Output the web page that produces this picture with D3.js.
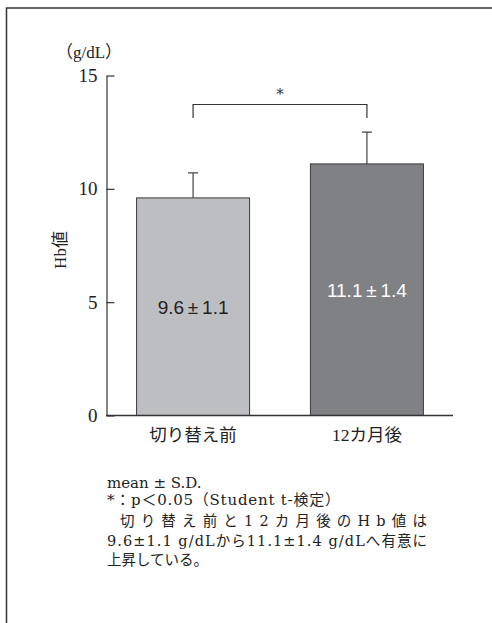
<!DOCTYPE html>
<html>
<head>
<meta charset="utf-8">
<script src="https://cdn.jsdelivr.net/npm/d3@7"></script>
<style>
  body { margin: 0; background: #fff; }
  svg { display: block; }
</style>
</head>
<body>
<div id="chart"></div>
<script>
// データ
let categories = ['切り替え前', '12カ月後'];
let means = [9.6, 11.1];
let sds = [1.1, 1.4];
let valueLabels = ['9.6\u2009±\u20091.1', '11.1\u2009±\u20091.4'];
let yTicks = [0, 5, 10, 15];
let barColors = ['#bdbec2', '#808185'];
let labelColors = ['#222', '#fff'];
let noteLines = ['mean ± S.D.', '*：p＜0.05（Student t-検定）'];
let bodyLines = ['切り替え前と12カ月後のHb値は', '9.6±1.1 g/dLから11.1±1.4 g/dLへ有意に', '上昇している。'];

let W = 492, H = 623;
let serif = '"DejaVu Serif", "Liberation Serif", "Noto Sans CJK JP", serif';
let times = '"Liberation Serif", "DejaVu Serif", "Noto Sans CJK JP", serif';
let sans = '"Liberation Sans", Arial, "Noto Sans CJK JP", sans-serif';

let svg = d3.select('#chart').append('svg')
    .attr('width', W)
    .attr('height', H);

//枠
svg.append('path')
    .attr('d', 'M6.5,' + H + 'V8H' + W)
    .attr('fill', 'none')
    .attr('stroke', '#333')
    .attr('stroke-width', 1.5);

//スケール
let y = d3.scaleLinear().domain([0, 15]).range([415.5, 75.5]);
let x = d3.scaleBand().domain(categories).range([106, 454])
    .paddingInner(0.35).paddingOuter(0.176);

let g = svg.append('g');

//棒
g.selectAll('rect.bar')
    .data(categories)
    .enter()
    .append('rect')
    .attr('class', 'bar')
    .attr('x', d => x(d))
    .attr('width', x.bandwidth())
    .attr('y', (d, i) => y(means[i]))
    .attr('height', (d, i) => y(0) - y(means[i]))
    .attr('fill', (d, i) => barColors[i])
    .attr('stroke', '#3a3a3a')
    .attr('stroke-width', 1);

//エラーバー（上のみ）
let cx = d => x(d) + x.bandwidth() / 2;
g.selectAll('path.err')
    .data(categories)
    .enter()
    .append('path')
    .attr('class', 'err')
    .attr('d', (d, i) => {
        let top = y(means[i] + sds[i]);
        return 'M' + cx(d) + ',' + y(means[i]) + 'V' + top +
            'M' + (cx(d) - 5) + ',' + top + 'H' + (cx(d) + 5);
    })
    .attr('fill', 'none')
    .attr('stroke', '#444')
    .attr('stroke-width', 1.2);

//棒の中の値
g.selectAll('text.val')
    .data(categories)
    .enter()
    .append('text')
    .attr('class', 'val')
    .attr('x', d => cx(d))
    .attr('y', (d, i) => y(means[i] / 2))
    .attr('dy', '0.36em')
    .attr('text-anchor', 'middle')
    .attr('font-family', sans)
    .attr('font-size', 19)
    .attr('fill', (d, i) => labelColors[i])
    .text((d, i) => valueLabels[i]);

//y軸
let yAxis = d3.axisLeft(y)
    .tickValues(yTicks)
    .tickSizeInner(-8)
    .tickSizeOuter(0)
    .tickPadding(9);
let ya = svg.append('g')
    .attr('transform', 'translate(106.5,0)')
    .call(yAxis);
ya.selectAll('path, line').attr('stroke', '#333').attr('stroke-width', 1.2);
ya.selectAll('text')
    .attr('font-family', times)
    .attr('font-size', 19)
    .attr('fill', '#222');

//x軸
let xAxis = d3.axisBottom(x).tickSize(0).tickPadding(13);
let xa = svg.append('g')
    .attr('transform', 'translate(0,' + y(0) + ')')
    .call(xAxis);
xa.select('.domain').attr('d', 'M106,0H453').attr('stroke', '#333').attr('stroke-width', 1.5);
xa.selectAll('text')
    .attr('font-family', times)
    .attr('font-size', 17.5)
    .attr('fill', '#222');

//単位とラベル
svg.append('text')
    .attr('x', 56)
    .attr('y', 58)
    .attr('font-family', times)
    .attr('font-size', 17)
    .attr('fill', '#222')
    .text('（g/dL）');

svg.append('text')
    .attr('transform', 'translate(66,250) rotate(-90)')
    .attr('text-anchor', 'middle')
    .attr('font-family', times)
    .attr('font-size', 17)
    .attr('fill', '#222')
    .text('Hb値');

//有意差ブラケット
let bx1 = cx(categories[0]), bx2 = cx(categories[1]);
let by = 104.5;
svg.append('path')
    .attr('d', 'M' + bx1 + ',118V' + by + 'H' + bx2 + 'V118')
    .attr('fill', 'none')
    .attr('stroke', '#333')
    .attr('stroke-width', 1.2);
svg.append('text')
    .attr('x', (bx1 + bx2) / 2)
    .attr('y', 99)
    .attr('text-anchor', 'middle')
    .attr('font-family', serif)
    .attr('font-size', 15)
    .attr('fill', '#333')
    .text('*');

//注釈
let noteLen = [null, 233];
svg.selectAll('text.note')
    .data(noteLines)
    .enter()
    .append('text')
    .attr('class', 'note')
    .attr('x', 107)
    .attr('y', (d, i) => 488 + i * 17)
    .attr('font-family', serif)
    .attr('font-size', 15)
    .attr('fill', '#222')
    .each(function (d, i) {
        if (noteLen[i]) {
            d3.select(this).attr('textLength', noteLen[i]).attr('lengthAdjust', 'spacing');
        }
    })
    .text(d => d);

//本文
let bodyX = [120, 107, 107];
let bodyLen = [307, 320, null];
svg.selectAll('text.body')
    .data(bodyLines)
    .enter()
    .append('text')
    .attr('class', 'body')
    .attr('x', (d, i) => bodyX[i])
    .attr('y', (d, i) => 526 + i * 19.5)
    .attr('font-family', serif)
    .attr('font-size', 14.5)
    .attr('fill', '#222')
    .each(function (d, i) {
        if (bodyLen[i]) {
            d3.select(this).attr('textLength', bodyLen[i]).attr('lengthAdjust', 'spacing');
        }
    })
    .text(d => d);
</script>
</body>
</html>
